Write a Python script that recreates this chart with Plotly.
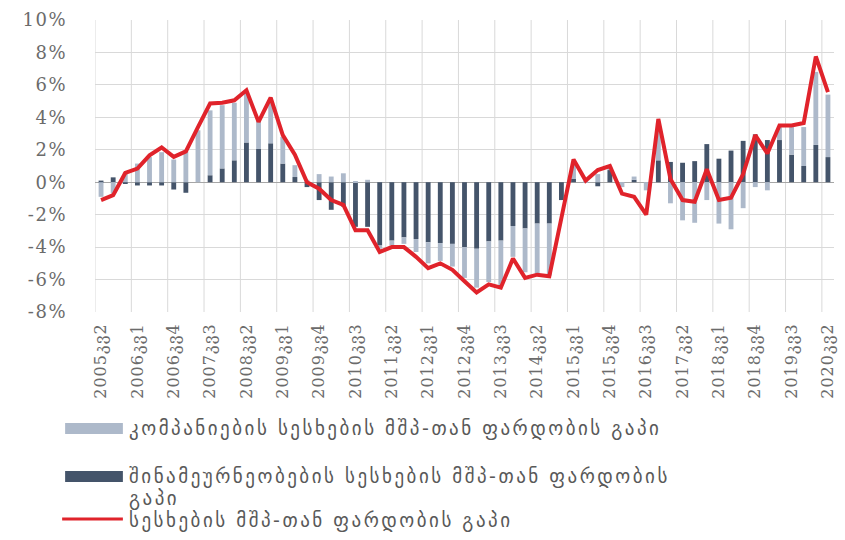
import plotly.graph_objects as go

# Quarterly categories, 2005 Q2 – 2020 Q2
years_quarters = [(2005, 2), (2005, 3), (2005, 4)] + \
    [(y, q) for y in range(2006, 2020) for q in (1, 2, 3, 4)] + [(2020, 1), (2020, 2)]
categories = [f"{y}კვ{q}" for y, q in years_quarters]

# Household loans-to-GDP gap (%), stacked first (next to zero)
households = [
    0.1, 0.3, -0.05, -0.2, -0.2, -0.2, -0.45, -0.65, 0.0, 0.43,
    0.85, 1.35, 2.45, 2.05, 2.4, 1.15, 0.32, -0.3, -1.1, -1.7,
    -1.5, -2.75, -2.75, -3.9, -3.6, -3.4, -3.5, -3.7, -3.75, -3.8,
    -4.0, -4.1, -3.65, -3.6, -2.7, -2.85, -2.55, -2.55, -1.1, 0.2,
    0.0, -0.25, 0.75, 0.0, 0.15, 0.0, 1.35, 1.25, 1.2, 1.3,
    2.35, 1.45, 1.95, 2.55, 2.95, 2.6, 2.6, 1.7, 1.0, 2.3,
    1.55,
]

# Corporate loans-to-GDP gap (%), stacked on top of households
companies = [
    -0.9, -0.7, 0.6, 1.15, 1.55, 1.85, 1.4, 1.9, 3.2, 4.0,
    3.9, 3.55, 3.05, 1.75, 2.6, 1.65, 0.73, 0.15, 0.5, 0.35,
    0.55, 0.05, 0.15, -0.2, -0.3, -0.4, -0.8, -1.3, -1.1, -1.4,
    -1.9, -2.4, -2.5, -2.8, -1.9, -2.7, -3.1, -3.2, 0.0, 1.0,
    0.1, 0.5, 0.2, -0.3, 0.2, -0.5, 2.3, -1.3, -2.35, -2.5,
    -1.1, -2.55, -2.9, -1.6, -0.3, -0.5, 0.8, 1.7, 2.4, 4.5,
    3.85,
]

# Total loans-to-GDP gap (%)
total_gap = [
    -1.1, -0.8, 0.57, 0.84, 1.66, 2.14, 1.56, 1.9, 3.4, 4.85,
    4.9, 5.05, 5.67, 3.72, 5.22, 2.9, 1.7, 0.0, -0.4, -1.1,
    -1.4, -2.96, -2.96, -4.3, -4.0, -4.0, -4.6, -5.3, -5.0, -5.4,
    -6.1, -6.8, -6.3, -6.5, -4.7, -5.9, -5.7, -5.8, -2.2, 1.4,
    0.1, 0.75, 1.0, -0.7, -0.9, -2.0, 3.9, 0.2, -1.1, -1.2,
    0.8, -1.1, -0.95, 0.5, 2.9, 1.77, 3.5, 3.5, 3.65, 7.75,
    5.55,
]

tick_labels = [
    "2005კვ2", "2006კვ1", "2006კვ4", "2007კვ3", "2008კვ2", "2009კვ1", "2009კვ4",
    "2010კვ3", "2011კვ2", "2012კვ1", "2012კვ4", "2013კვ3", "2014კვ2", "2015კვ1",
    "2015კვ4", "2016კვ3", "2017კვ2", "2018კვ1", "2018კვ4", "2019კვ3", "2020კვ2",
]
y_ticks = [-8, -6, -4, -2, 0, 2, 4, 6, 8, 10]
y_tick_text = ["-8%", "-6%", "-4%", "-2%", "0%", "2%", "4%", "6%", "8%", "10%"]

series_names = [
    "კომპანიების სესხების მშპ-თან ფარდობის გაპი",
    "შინამეურნეობების სესხების მშპ-თან ფარდობის გაპი",
    "სესხების მშპ-თან ფარდობის გაპი",
]

LIGHT = "#adb9ca"
DARK = "#44546a"
RED = "#e0232b"
GRID = "#d9d9d9"
TEXT = "#6b6b6b"

W, H = 845, 540
ML, MR, MT, MB = 95, 8, 20, 228
PW, PH = W - ML - MR, H - MT - MB


def px(x):
    return (x - ML) / PW


def py(y):
    return 1 - (y - MT) / PH


def spaced(text, px_spacing):
    """Wrap text so it is rendered with extra tracking between letters."""
    return f'<span style="letter-spacing:{px_spacing}px">{text}</span>'


fig = go.Figure()
fig.add_trace(go.Bar(x=categories, y=households, marker_color=DARK,
                     marker_line_width=0, name=series_names[1]))
fig.add_trace(go.Bar(x=categories, y=companies, marker_color=LIGHT,
                     marker_line_width=0, name=series_names[0]))
fig.add_trace(go.Scatter(x=categories, y=total_gap, mode="lines",
                         line=dict(color=RED, width=4), name=series_names[2]))

# vertical gridlines on category boundaries, one every three quarters
shapes = []
for k in range(0, len(categories), 3):
    shapes.append(dict(type="line", xref="x", yref="paper", x0=k - 0.5, x1=k - 0.5,
                       y0=0, y1=1, line=dict(color=GRID, width=1), layer="below"))

# legend drawn by hand below the chart
shapes.append(dict(type="rect", xref="paper", yref="paper", x0=px(65), x1=px(123),
                   y0=py(434), y1=py(423), fillcolor=LIGHT, line_width=0))
shapes.append(dict(type="rect", xref="paper", yref="paper", x0=px(65), x1=px(123),
                   y0=py(482), y1=py(471), fillcolor=DARK, line_width=0))
shapes.append(dict(type="line", xref="paper", yref="paper", x0=px(62), x1=px(123),
                   y0=py(519), y1=py(519), line=dict(color=RED, width=3)))

leg_font = dict(family="DejaVu Sans", size=19, color="#595959")
LS = 2.5
annotations = [
    dict(text=spaced(series_names[0], LS), x=px(127), y=py(428)),
    dict(text=spaced("შინამეურნეობების სესხების მშპ-თან ფარდობის", LS), x=px(127), y=py(476)),
    dict(text=spaced("გაპი", LS), x=px(127), y=py(498)),
    dict(text=spaced(series_names[2], LS), x=px(127), y=py(520)),
]
for a in annotations:
    a.update(xref="paper", yref="paper", xanchor="left", yanchor="middle",
             showarrow=False, font=leg_font)

fig.update_layout(
    width=W, height=H,
    margin=dict(l=ML, r=MR, t=MT, b=MB),
    paper_bgcolor="white", plot_bgcolor="white",
    barmode="relative", bargap=0.6,
    showlegend=False,
    shapes=shapes, annotations=annotations,
)
fig.update_xaxes(
    range=[-0.5, len(categories) - 0.5],
    tickmode="array", tickvals=tick_labels,
    ticktext=[spaced(t, 1) for t in tick_labels],
    tickangle=-90, showgrid=False, zeroline=False, showline=False,
    ticks="", ticklabelstandoff=7,
    tickfont=dict(family="DejaVu Serif", size=16, color=TEXT),
)
fig.update_yaxes(
    range=[-8, 10], tickmode="array", tickvals=y_ticks,
    ticktext=[spaced(t, 1.5) for t in y_tick_text],
    showgrid=True, gridcolor=GRID, gridwidth=1,
    zeroline=True, zerolinecolor="#a6a6a6", zerolinewidth=1,
    showline=False, ticks="", ticklabelstandoff=27,
    tickfont=dict(family="DejaVu Serif", size=18, color=TEXT),
)

fig.write_html("out.html")
